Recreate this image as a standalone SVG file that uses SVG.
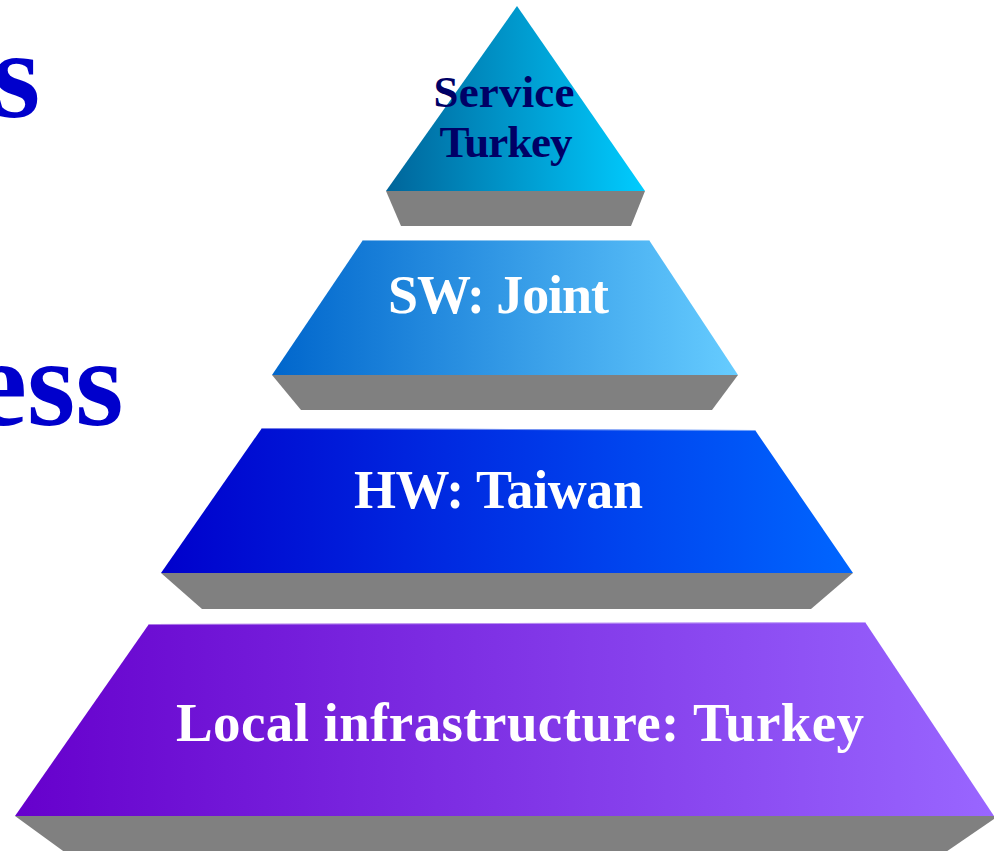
<svg xmlns="http://www.w3.org/2000/svg" width="994" height="851" viewBox="0 0 994 851">
  <defs>
    <linearGradient id="gTop" x1="0" y1="0" x2="1" y2="0">
      <stop offset="0" stop-color="#00659a"/>
      <stop offset="1" stop-color="#00ccff"/>
    </linearGradient>
    <linearGradient id="gSW" x1="0" y1="0" x2="1" y2="0">
      <stop offset="0" stop-color="#0066cc"/>
      <stop offset="1" stop-color="#66ccff"/>
    </linearGradient>
    <linearGradient id="gHW" x1="0" y1="0" x2="1" y2="0">
      <stop offset="0" stop-color="#0000cc"/>
      <stop offset="1" stop-color="#0066ff"/>
    </linearGradient>
    <linearGradient id="gLoc" x1="0" y1="0" x2="1" y2="0">
      <stop offset="0" stop-color="#6600cc"/>
      <stop offset="1" stop-color="#9966ff"/>
    </linearGradient>
  </defs>
  <style>
    .side { fill: #808080; }
    .edge { stroke: #ffffff; stroke-opacity: 0.45; stroke-width: 1; fill: none; }
    .lbl { font-family: "Liberation Serif", "Times New Roman", serif; font-weight: bold; fill: #ffffff; text-anchor: middle; }
    .lblTop { font-family: "Liberation Serif", "Times New Roman", serif; font-weight: bold; fill: #000066; text-anchor: middle; font-size: 45px; }
    .big { font-family: "Liberation Serif", "Times New Roman", serif; font-weight: bold; fill: #0000cc; font-size: 124px; }
  </style>

  <rect width="994" height="851" fill="#ffffff"/>

  <g id="title-fragments">
    <text class="big" x="-8" y="117">s</text>
    <text class="big" x="-28" y="425">ess</text>
  </g>

  <g id="tier-service">
    <polygon class="side" points="386,191 645,191 631,226 401,226"/>
    <polygon points="517,6 645,191 386,191" fill="url(#gTop)"/>
    <text class="lblTop" x="504" y="107" textLength="141">Service</text>
    <text class="lblTop" x="506" y="157" textLength="133">Turkey</text>
  </g>

  <g id="tier-sw">
    <polygon class="side" points="272,375 738,375 712,410 301,410"/>
    <polygon points="363,240 649,240 738,375 272,375" fill="url(#gSW)"/>
    <line class="edge" x1="363" y1="240.5" x2="649" y2="240.5"/>
    <text class="lbl" x="498.5" y="313" font-size="54" textLength="221">SW: Joint</text>
  </g>

  <g id="tier-hw">
    <polygon class="side" points="161,573 853,573 811,609 202,609"/>
    <polygon points="262,428 755,430 853,573 161,573" fill="url(#gHW)"/>
    <line class="edge" x1="262" y1="428.5" x2="755" y2="430.5"/>
    <text class="lbl" x="498.5" y="508" font-size="54" textLength="289">HW: Taiwan</text>
  </g>

  <g id="tier-local">
    <polygon class="side" points="15,816 994,816 994,819 940,856 70,856"/>
    <polygon points="149,624 865,622 994,816 15,816" fill="url(#gLoc)"/>
    <line class="edge" x1="149" y1="624.5" x2="865" y2="622.5"/>
    <text class="lbl" x="520" y="741" font-size="55" textLength="688">Local infrastructure: Turkey</text>
  </g>
</svg>
